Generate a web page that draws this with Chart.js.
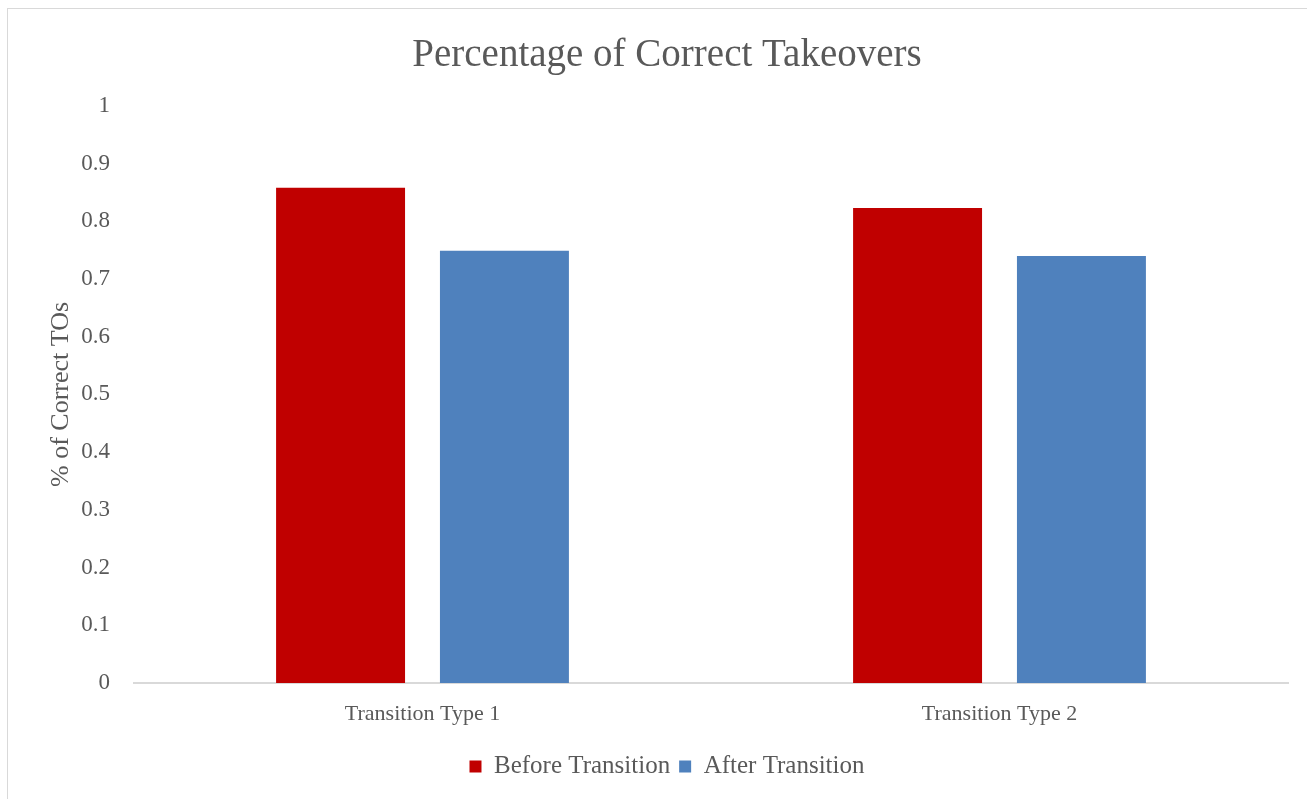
<!DOCTYPE html>
<html>
<head>
<meta charset="utf-8">
<script src="https://cdn.jsdelivr.net/npm/chart.js@4"></script>
<style>
  html, body { margin: 0; padding: 0; background: #fff; overflow: hidden; }
  #wrap { position: relative; width: 1307px; height: 799px; }
  #frame {
    position: absolute; left: 7px; top: 8px;
    width: 1400px; height: 900px;
    border: 1px solid #d9d9d9;
  }
  canvas { position: absolute; left: 0; top: 0; }
</style>
</head>
<body>
<div id="wrap">
  <div id="frame"></div>
  <canvas id="chart" width="1307" height="799"></canvas>
</div>
<script>
// chart data
const categories = ["Transition Type 1", "Transition Type 2"];
const beforeValues = [0.858, 0.823];
const afterValues = [0.749, 0.740];
const seriesNames = ["Before Transition", "After Transition"];

const TEXT = "#595959";
const FONT = "'Liberation Serif', 'DejaVu Serif', serif";

new Chart(document.getElementById("chart"), {
  type: "bar",
  data: {
    labels: categories,
    datasets: [
      {
        label: seriesNames[0],
        data: beforeValues,
        backgroundColor: "#c00000",
        categoryPercentage: 0.568,
        barPercentage: 0.787
      },
      {
        label: seriesNames[1],
        data: afterValues,
        backgroundColor: "#4f81bd",
        categoryPercentage: 0.568,
        barPercentage: 0.787
      }
    ]
  },
  options: {
    responsive: false,
    animation: false,
    layout: { padding: { left: 46, right: 19, top: 24, bottom: 10 } },
    plugins: {
      title: {
        display: true,
        text: "Percentage of Correct Takeovers",
        color: TEXT,
        font: { family: FONT, size: 39, weight: "normal" },
        padding: { top: 8, bottom: 27 }
      },
      legend: {
        position: "bottom",
        labels: {
          color: TEXT,
          font: { family: FONT, size: 25, lineHeight: 1 },
          boxWidth: 12,
          boxHeight: 12,
          padding: 9
        }
      },
      tooltip: { enabled: false }
    },
    scales: {
      x: {
        grid: { display: false, drawTicks: false },
        border: { display: true, color: "#d9d9d9", width: 2 },
        ticks: { color: TEXT, font: { family: FONT, size: 22, lineHeight: 0.95 }, padding: 20.5 }
      },
      y: {
        min: 0,
        max: 1,
        grid: { display: false, drawTicks: false },
        border: { display: false },
        ticks: {
          stepSize: 0.1,
          color: TEXT,
          font: { family: FONT, size: 23 },
          padding: 24,
          callback: (v) => String(Number(v.toFixed(1)))
        },
        title: {
          display: true,
          text: "% of Correct TOs",
          color: TEXT,
          font: { family: FONT, size: 26 },
          padding: 0
        },
        afterFit: (scale) => { scale.width = 134 - 46; }
      }
    }
  }
});
</script>
</body>
</html>
